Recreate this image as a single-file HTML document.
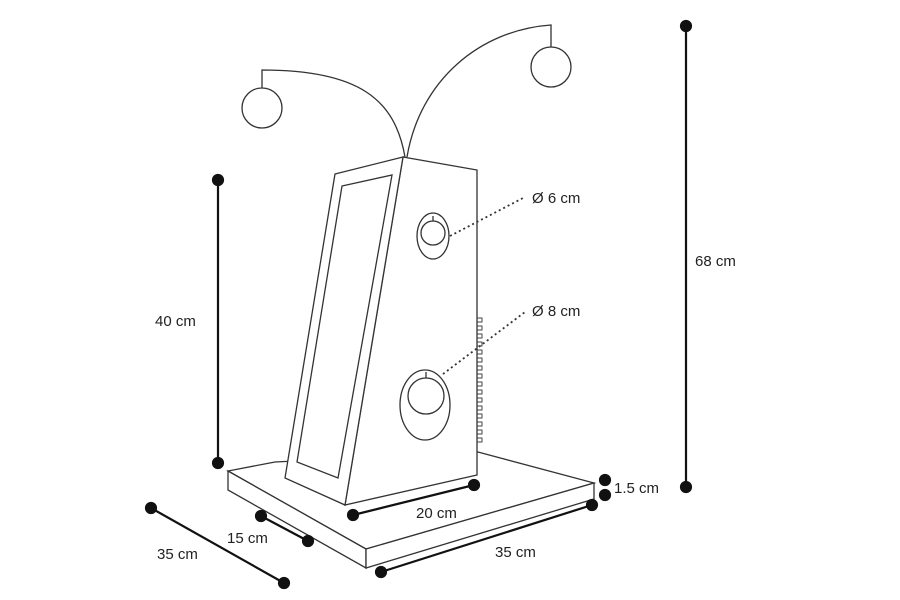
<!DOCTYPE html>
<html><head><style>body{margin:0;background:#fff}svg{display:block}text{font-family:"Liberation Sans",sans-serif;font-size:15px;fill:#222}</style></head>
<body>
<svg width="900" height="600" viewBox="0 0 900 600">
<g fill="none" stroke="#333" stroke-width="1.3">
<!-- base -->
<polygon points="228,471 366,549 594,483 478,452 275,462" fill="#fff"/>
<polygon points="228,471 366,549 366,568 228,490" fill="#fff"/>
<polygon points="366,549 594,483 594,499 366,568" fill="#fff"/>
<!-- side panel -->
<polygon points="403,157 477,170 477,475 345,505" fill="#fff"/>
<!-- front panel -->
<polygon points="335,174 403,157 345,505 285,478" fill="#fff"/>
<polygon points="342,186 392,175 338,478 297,462"/>
<!-- holes -->
<ellipse cx="433" cy="236" rx="16" ry="23"/>
<circle cx="433" cy="233" r="12"/>
<line x1="433" y1="216" x2="433" y2="221"/>
<ellipse cx="425" cy="405" rx="25" ry="35"/>
<circle cx="426" cy="396" r="18"/>
<line x1="426" y1="372" x2="426" y2="378"/>
<!-- antennae -->
<path d="M405,157 C395,100 360,70 262,70 L262,88"/>
<circle cx="262" cy="108" r="20" fill="#fff"/>
<path d="M407,157 C420,80 480,30 551,25 L551,47"/>
<circle cx="551" cy="67" r="20" fill="#fff"/>
<!-- ladder -->
<g stroke-width="0.9">
<rect x="477" y="318" width="5" height="4"/><rect x="477" y="326" width="5" height="4"/><rect x="477" y="334" width="5" height="4"/><rect x="477" y="342" width="5" height="4"/><rect x="477" y="350" width="5" height="4"/><rect x="477" y="358" width="5" height="4"/><rect x="477" y="366" width="5" height="4"/><rect x="477" y="374" width="5" height="4"/><rect x="477" y="382" width="5" height="4"/><rect x="477" y="390" width="5" height="4"/><rect x="477" y="398" width="5" height="4"/><rect x="477" y="406" width="5" height="4"/><rect x="477" y="414" width="5" height="4"/><rect x="477" y="422" width="5" height="4"/><rect x="477" y="430" width="5" height="4"/><rect x="477" y="438" width="5" height="4"/>
</g>
<!-- leaders -->
<line x1="450" y1="236" x2="525" y2="197" stroke-dasharray="2,3" stroke-width="1.8"/>
<line x1="443" y1="374" x2="525" y2="312" stroke-dasharray="2,3" stroke-width="1.8"/>
</g>
<!-- dimension lines -->
<g stroke="#111" stroke-width="2.2" fill="#111">
<line x1="218" y1="180" x2="218" y2="463"/><circle cx="218" cy="180" r="5"/><circle cx="218" cy="463" r="5"/>
<line x1="686" y1="26" x2="686" y2="487"/><circle cx="686" cy="26" r="5"/><circle cx="686" cy="487" r="5"/>
<line x1="353" y1="515" x2="474" y2="485"/><circle cx="353" cy="515" r="5"/><circle cx="474" cy="485" r="5"/>
<line x1="381" y1="572" x2="592" y2="505"/><circle cx="381" cy="572" r="5"/><circle cx="592" cy="505" r="5"/>
<line x1="261" y1="516" x2="308" y2="541"/><circle cx="261" cy="516" r="5"/><circle cx="308" cy="541" r="5"/>
<line x1="151" y1="508" x2="284" y2="583"/><circle cx="151" cy="508" r="5"/><circle cx="284" cy="583" r="5"/>
<circle cx="605" cy="480" r="5"/><circle cx="605" cy="495" r="5"/>
</g>
<text x="532" y="203">Ø 6 cm</text>
<text x="532" y="316">Ø 8 cm</text>
<text x="695" y="266">68 cm</text>
<text x="155" y="326">40 cm</text>
<text x="614" y="493">1.5 cm</text>
<text x="416" y="518">20 cm</text>
<text x="227" y="543">15 cm</text>
<text x="157" y="559">35 cm</text>
<text x="495" y="557">35 cm</text>
</svg>
</body></html>
